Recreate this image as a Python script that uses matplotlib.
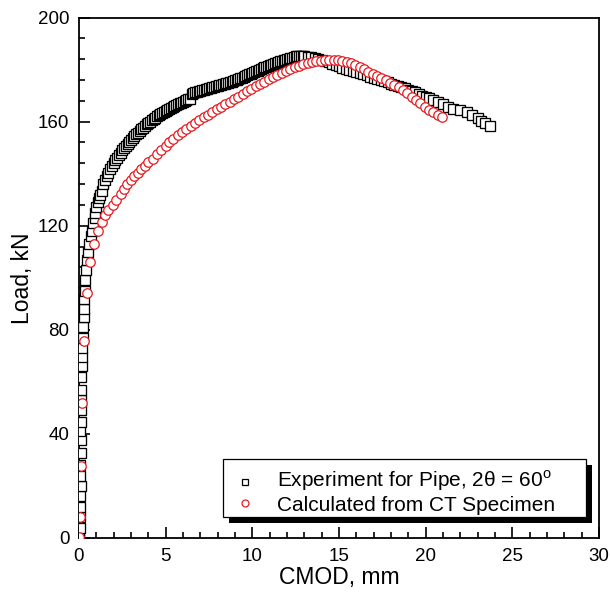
import matplotlib
matplotlib.use("Agg")
import matplotlib.pyplot as plt
from matplotlib.patches import Rectangle
from matplotlib.lines import Line2D
from matplotlib.ticker import MultipleLocator

plt.rcParams['font.family'] = ['Liberation Sans', 'DejaVu Sans']
plt.rcParams['mathtext.fontset'] = 'custom'
plt.rcParams['mathtext.rm'] = 'Liberation Sans'

# Experiment for pipe (black squares)
exp_x = [0.0, 0.02, 0.05, 0.04, 0.08, 0.05, 0.10, 0.08, 0.06, 0.12, 0.10, 0.06, 0.12, 0.10,
         0.14, 0.14, 0.12, 0.20, 0.17, 0.20, 0.25, 0.25, 0.28, 0.28, 0.30, 0.33, 0.36, 0.42,
         0.48, 0.54, 0.60, 0.68, 0.75, 0.82, 0.90, 0.94, 1.00, 1.08, 1.15, 1.23, 1.30, 1.40,
         1.5, 1.6, 1.7, 1.8, 1.9, 2.0, 2.1, 2.2, 2.3, 2.4, 2.5, 2.6, 2.7, 2.8, 2.9,
         3.0, 3.1, 3.2, 3.3, 3.4, 3.5, 3.6, 3.7, 3.8, 3.9, 4.0, 4.1, 4.2, 4.3, 4.4,
         4.5, 4.6, 4.7, 4.8, 4.9, 5.0, 5.1, 5.2, 5.3, 5.4, 5.5, 5.6, 5.7, 5.8, 5.9,
         6.0, 6.1, 6.2, 6.3, 6.4, 6.5, 6.6, 6.7, 6.8, 6.9, 7.0, 7.1, 7.2, 7.3, 7.4,
         7.5, 7.6, 7.7, 7.8, 7.9, 8.0, 8.1, 8.2, 8.3, 8.4, 8.5, 8.6, 8.7, 8.8, 8.9,
         9.0, 9.1, 9.2, 9.3, 9.4, 9.5, 9.6, 9.7, 9.8, 9.9, 10.0, 10.1, 10.2, 10.3, 10.4,
         10.5, 10.6, 10.7, 10.8, 10.9, 11.0, 11.1, 11.2, 11.3, 11.4, 11.5, 11.6, 11.7, 11.8, 11.9,
         12.0, 12.1, 12.2, 12.3, 12.4, 12.5, 12.6, 12.7, 12.8, 12.9, 13.0, 13.2, 13.4, 13.6, 13.8,
         14.0, 14.2, 14.4, 14.6, 14.8, 15.0, 15.2, 15.4, 15.6, 15.8, 16.0, 16.2, 16.4, 16.6, 16.8,
         17.0, 17.2, 17.4, 17.6, 17.8, 18.0, 18.2, 18.4, 18.6, 18.8, 19.0, 19.2, 19.4, 19.6, 19.8,
         20.0, 20.2, 20.45, 20.7, 21.0, 21.3, 21.6, 22.0, 22.4, 22.7, 23.0, 23.2, 23.45, 23.7]
exp_y = [0, 2, 4, 8, 12, 16, 20, 24, 28, 32.6, 37.6, 41, 44.5, 49,
         53, 57, 62, 66, 69.5, 73, 77, 81, 85, 88, 92, 95, 99, 103,
         107, 110, 113, 116, 118, 121, 123, 125, 127, 129, 130.5, 131.7, 133.5, 136,
         137.5, 139, 140.3, 141.6, 143, 144.2, 145.2, 146.2, 147.1, 148, 148.9, 149.8, 150.6, 151.4, 152.2,
         153, 153.7, 154.4, 155.1, 155.8, 156.5, 157.1, 157.7, 158.3, 158.9, 159.5, 160, 160.5, 161, 161.5,
         162, 162.5, 163, 163.4, 163.8, 164.2, 164.6, 165, 165.4, 165.8, 166.1, 166.4, 166.7, 167, 167.3,
         167.6, 167.9, 168.2, 168.5, 168.8, 170.6, 170.9, 171.2, 171.4, 171.6, 171.8, 172, 172.2, 172.4, 172.6,
         172.8, 173, 173.2, 173.4, 173.6, 173.8, 174, 174.2, 174.4, 174.6, 174.8, 175, 175.2, 175.4, 175.6,
         175.9, 176.1, 176.4, 176.6, 176.9, 177.2, 177.5, 177.8, 178.1, 178.4, 178.7, 179, 179.3, 179.6, 179.9,
         180.2, 180.5, 180.8, 181.1, 181.4, 181.6, 181.9, 182.1, 182.4, 182.6, 182.9, 183.1, 183.3, 183.5, 183.7,
         183.9, 184.1, 184.3, 184.6, 184.9, 185.2, 185.3, 185.3, 185.3, 185.2, 185.1, 184.9, 184.7, 184.5, 184.2,
         183.8, 183.3, 182.8, 182.2, 181.7, 181.2, 180.7, 180.3, 179.9, 179.5, 179.1, 178.7, 178.2, 177.8, 177.3,
         176.9, 176.4, 176, 175.5, 175.1, 174.6, 174.2, 173.7, 173.3, 172.8, 172.3, 171.8, 171.2, 170.6, 170,
         169.5, 169, 168.2, 167.5, 166.6, 165.8, 165, 164.5, 163.5, 162.5, 161.3, 160.3, 159.5, 158.5]

# Calculated from CT specimen (red circles)
calc_x = [0.0, 0.08, 0.13, 0.19, 0.30, 0.47, 0.65, 0.84, 1.07, 1.32, 1.50, 1.70, 1.94, 2.15,
          2.40, 2.60, 2.77, 3.00, 3.20, 3.40, 3.60, 3.80, 4.00, 4.25, 4.50, 4.75, 5.00, 5.20,
          5.45, 5.70, 5.95, 6.20, 6.45, 6.70, 6.95, 7.20, 7.45, 7.70, 7.95, 8.20, 8.45, 8.70,
          8.95, 9.20, 9.45, 9.70, 9.95, 10.2, 10.45, 10.7, 10.95, 11.2, 11.45, 11.7, 11.95, 12.2,
          12.45, 12.7, 12.95, 13.2, 13.45, 13.7, 13.95, 14.2, 14.45, 14.7, 14.95, 15.2, 15.45, 15.7,
          15.95, 16.2, 16.45, 16.7, 16.95, 17.2, 17.45, 17.7, 17.95, 18.2, 18.45, 18.7, 18.95, 19.2,
          19.45, 19.7, 19.95, 20.2, 20.45, 20.7, 20.95]
calc_y = [0.4, 8, 27.6, 51.8, 75.6, 94, 106, 113, 118, 121.5, 124, 126, 128, 130,
          132, 134, 136, 137.5, 139, 140.3, 141.6, 143, 144.3, 145.8, 147.6, 149, 150.5, 152,
          153.5, 154.7, 156, 157.2, 158.3, 159.4, 160.5, 161.6, 162.7, 163.7, 164.7, 165.7, 166.7, 167.6,
          168.6, 169.6, 170.6, 171.6, 172.6, 173.6, 174.5, 175.4, 176.3, 177.2, 178, 178.8, 179.5, 180.2,
          180.9, 181.5, 182, 182.5, 182.9, 183.2, 183.4, 183.5, 183.6, 183.6, 183.5, 183.3, 183, 182.5,
          181.8, 181, 180.1, 179.2, 178.3, 177.4, 176.6, 175.8, 175, 174.1, 173.2, 172.1, 170.9, 169.6,
          168.3, 167, 165.8, 164.6, 163.6, 162.6, 161.8]

labels = ['Experiment for Pipe, 2θ = 60$^{\\mathrm{o}}$', 'Calculated from CT Specimen']

fig = plt.figure(figsize=(6.10, 6.01), dpi=100)
ax = fig.add_axes([79/610, 1-538/601, (599-79)/610, (538-17.5)/601])

ax.plot(exp_x, exp_y, linestyle='none', marker='s', markersize=6.6, markerfacecolor='white',
        markeredgecolor='black', markeredgewidth=0.95, zorder=3)
ax.plot(calc_x, calc_y, linestyle='none', marker='o', markersize=6.8, markerfacecolor='white',
        markeredgecolor='#e8191e', markeredgewidth=0.9, zorder=4)

ax.set_xlim(0, 30)
ax.set_ylim(0, 200)
ax.xaxis.set_major_locator(MultipleLocator(5))
ax.xaxis.set_minor_locator(MultipleLocator(1))
ax.yaxis.set_major_locator(MultipleLocator(40))
ax.yaxis.set_minor_locator(MultipleLocator(8))
ax.tick_params(which='both', direction='in', top=False, right=False, labelsize=13.5, width=1.2, pad=7)
ax.tick_params(which='major', length=8)
ax.tick_params(which='minor', length=4.5)
for s in ax.spines.values():
    s.set_linewidth(1.3)

ax.set_xlabel('CMOD, mm', fontsize=16.5, labelpad=1)
ax.set_ylabel('Load, kN', fontsize=16.5, labelpad=3)

# Legend box (manual, with solid black drop shadow)
def fx(px):
    return (px - 79) / 520.0

def fy(py):
    return (538 - py) / 520.5

box_x0, box_x1, box_y0, box_y1 = fx(223), fx(586), fy(517), fy(459)
off_x, off_y = 6 / 520.0, 6 / 520.5
ax.add_patch(Rectangle((box_x0 + off_x, box_y0 - off_y), box_x1 - box_x0, box_y1 - box_y0,
                       transform=ax.transAxes, facecolor='black', edgecolor='none', zorder=9,
                       clip_on=False))
ax.add_patch(Rectangle((box_x0, box_y0), box_x1 - box_x0, box_y1 - box_y0,
                       transform=ax.transAxes, facecolor='white', edgecolor='black',
                       linewidth=0.9, zorder=10, clip_on=False))
ax.add_line(Line2D([fx(245)], [fy(482)], transform=ax.transAxes, linestyle='none', marker='s',
                   markersize=4.2, markerfacecolor='white', markeredgecolor='black',
                   markeredgewidth=0.9, zorder=11))
ax.add_line(Line2D([fx(245)], [fy(503)], transform=ax.transAxes, linestyle='none', marker='o',
                   markersize=5.0, markerfacecolor='white', markeredgecolor='#e8191e',
                   markeredgewidth=0.9, zorder=11))
ax.text(fx(277), fy(487), labels[0], transform=ax.transAxes, fontsize=15, va='baseline',
        ha='left', zorder=11)
ax.text(fx(277), fy(511), labels[1], transform=ax.transAxes, fontsize=15, va='baseline',
        ha='left', zorder=11)

fig.savefig('out.png', dpi=100)
